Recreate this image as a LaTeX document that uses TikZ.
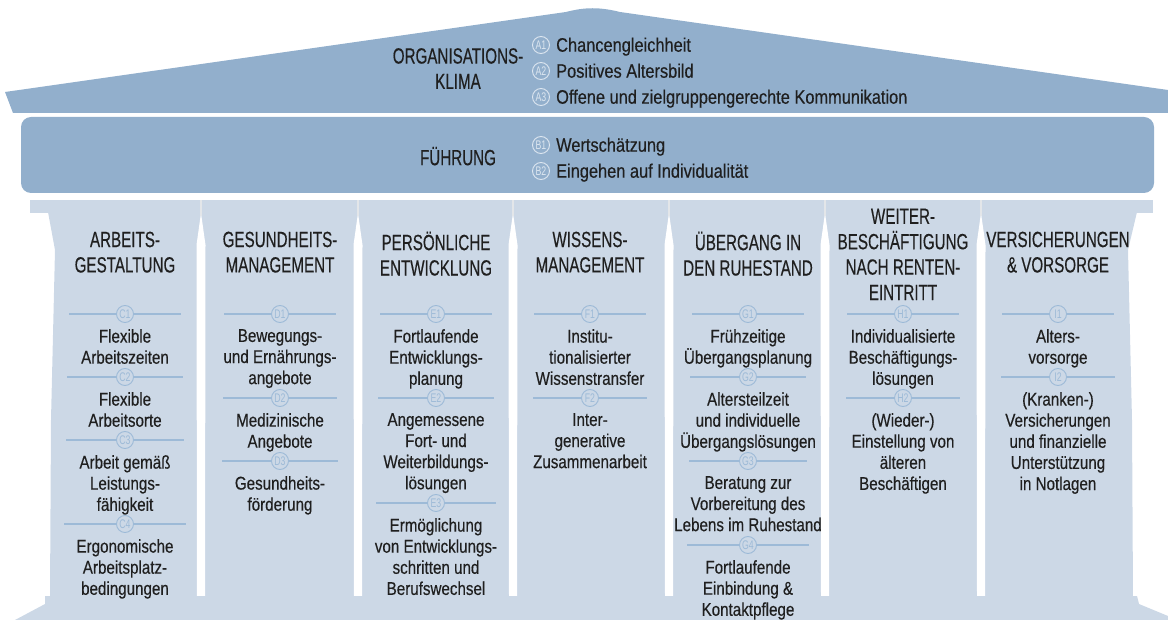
\documentclass[tikz,border=0pt]{standalone}
\usepackage{fontspec}
\setmainfont[FakeStretch=0.82, FakeBold=0.35]{Liberation Sans}
\newfontfamily\capsfont[FakeStretch=0.69, FakeBold=0.35]{Liberation Sans}
\newfontfamily\pointfont[FakeStretch=0.84, FakeBold=0.35]{Liberation Sans}
\newfontfamily\tagfont[FakeStretch=0.7]{Liberation Sans}

\definecolor{roofblue}{HTML}{92AFCC}
\definecolor{pillarblue}{HTML}{CCD8E6}
\definecolor{ruleblue}{HTML}{9DBAD7}
\definecolor{tagwhite}{HTML}{DCE6F0}
\definecolor{inkgray}{HTML}{1F1F1F}
\definecolor{jointgray}{HTML}{E3E6E9}

\begin{document}
\begin{tikzpicture}[x=1pt, y=-1pt,
  head/.style={font=\capsfont\fontsize{22}{25.4}\selectfont, text=inkgray, align=center,
    anchor=north, inner sep=0pt, execute at begin node={\rule{0pt}{20pt}}},
  item/.style={font=\fontsize{18.5}{21.1}\selectfont, text=inkgray, align=center,
    anchor=north, inner sep=0pt, execute at begin node={\rule{0pt}{17.3pt}}},
  point/.style={font=\pointfont\fontsize{19.5}{22}\selectfont, text=inkgray, anchor=base west, inner sep=0pt},
  rooftag/.style={circle, draw=tagwhite, line width=0.9pt, text=tagwhite, inner sep=0pt,
    minimum size=17pt, font=\tagfont\fontsize{12.5}{12.5}\selectfont},
  tag/.style={circle, draw=ruleblue, fill=pillarblue, line width=0.9pt, text=ruleblue, inner sep=0pt,
    minimum size=17pt, font=\tagfont\fontsize{12.5}{12.5}\selectfont},
  sep/.style={draw=ruleblue, line width=1.3pt}]
  \useasboundingbox (0,0) rectangle (1168,620);

  \fill[roofblue] (5,92) -- (566,12) .. controls (585,7) and (600,7) .. (620,12)
    -- (1168,90) -- (1168,113) -- (13,113) -- cycle;
  \fill[roofblue, rounded corners=10pt] (21,117) rectangle (1154,193);

  \fill[pillarblue] (30,200) rectangle (1153,213);
  \fill[pillarblue] (48,212) -- (1137,212) -- (1128,250) -- (1132,420) -- (1133,598)
    -- (50,598) -- (51,420) -- (55,250) -- cycle;
  \foreach \b in {201,358,513,669,825,981} {
    \fill[white] (\b,213) -- (\b+4.5,245) -- (\b+4,598) -- (\b-4,598) -- (\b-4.5,245) -- cycle;
    \draw[jointgray, line width=2.5pt] (\b,200) -- (\b,216);
  }
  \fill[pillarblue] (45,596) -- (1137,596) -- (1139,604) -- (1168,616) -- (1168,620)
    -- (15,620) -- (45,604) -- cycle;

  \node[head] (klima) at (458,48) {ORGANISATIONS-\\KLIMA};
  \node[rooftag] (a1) at (541,45) {A1};
  \node[rooftag] (a2) at (541,71) {A2};
  \node[rooftag] (a3) at (541,97) {A3};
  \node[point] (a1t) at (556,51.7) {Chancengleichheit};
  \node[point] (a2t) at (556,77.7) {Positives Altersbild};
  \node[point] (a3t) at (556,103.7) {Offene und zielgruppengerechte Kommunikation};

  \node[head] (fuehrung) at (458,145) {FÜHRUNG};
  \node[rooftag] (b1) at (541,145) {B1};
  \node[rooftag] (b2) at (541,171) {B2};
  \node[point] (b1t) at (556,151.7) {Wertschätzung};
  \node[point] (b2t) at (556,177.7) {Eingehen auf Individualität};

  \node[head] (arbeit) at (125,231.5) {ARBEITS-\\GESTALTUNG};
  \node[tag] (c1) at (125,314) {C1};
  \node[item] (c1t) at (125,329) {Flexible\\Arbeitszeiten};
  \node[tag] (c2) at (125,377) {C2};
  \node[item] (c2t) at (125,392) {Flexible\\Arbeitsorte};
  \node[tag] (c3) at (125,440) {C3};
  \node[item] (c3t) at (125,455) {Arbeit gemäß\\Leistungs-\\fähigkeit};
  \node[tag] (c4) at (125,524) {C4};
  \node[item] (c4t) at (125,539) {Ergonomische\\Arbeitsplatz-\\bedingungen};

  \node[head] (gesund) at (280,231.5) {GESUNDHEITS-\\MANAGEMENT};
  \node[tag] (d1) at (280,314) {D1};
  \node[item] (d1t) at (280,329) {Bewegungs-\\und Ernährungs-\\angebote};
  \node[tag] (d2) at (280,398) {D2};
  \node[item] (d2t) at (280,413) {Medizinische\\Angebote};
  \node[tag] (d3) at (280,461) {D3};
  \node[item] (d3t) at (280,476) {Gesundheits-\\förderung};

  \node[head] (person) at (436,231.5) {PERSÖNLICHE\\ENTWICKLUNG};
  \node[tag] (e1) at (436,314) {E1};
  \node[item] (e1t) at (436,329) {Fortlaufende\\Entwicklungs-\\planung};
  \node[tag] (e2) at (436,398) {E2};
  \node[item] (e2t) at (436,413) {Angemessene\\Fort- und\\Weiterbildungs-\\lösungen};
  \node[tag] (e3) at (436,503) {E3};
  \node[item] (e3t) at (436,518) {Ermöglichung\\von Entwicklungs-\\schritten und\\Berufswechsel};

  \node[head] (wissen) at (590,231.5) {WISSENS-\\MANAGEMENT};
  \node[tag] (f1) at (590,314) {F1};
  \node[item] (f1t) at (590,329) {Institu-\\tionalisierter\\Wissenstransfer};
  \node[tag] (f2) at (590,398) {F2};
  \node[item] (f2t) at (590,413) {Inter-\\generative\\Zusammenarbeit};

  \node[head] (uebergang) at (748,231.5) {ÜBERGANG IN\\DEN RUHESTAND};
  \node[tag] (g1) at (748,314) {G1};
  \node[item] (g1t) at (748,329) {Frühzeitige\\Übergangsplanung};
  \node[tag] (g2) at (748,377) {G2};
  \node[item] (g2t) at (748,392) {Altersteilzeit\\und individuelle\\Übergangslösungen};
  \node[tag] (g3) at (748,461) {G3};
  \node[item] (g3t) at (748,476) {Beratung zur\\Vorbereitung des\\Lebens im Ruhestand};
  \node[tag] (g4) at (748,545) {G4};
  \node[item] (g4t) at (748,560) {Fortlaufende\\Einbindung \&\\Kontaktpflege};

  \node[head] (weiter) at (903,208.5) {WEITER-\\BESCHÄFTIGUNG\\NACH RENTEN-\\EINTRITT};
  \node[tag] (h1) at (903,314) {H1};
  \node[item] (h1t) at (903,329) {Individualisierte\\Beschäftigungs-\\lösungen};
  \node[tag] (h2) at (903,398) {H2};
  \node[item] (h2t) at (903,413) {(Wieder-)\\Einstellung von\\älteren\\Beschäftigen};

  \node[head] (vorsorge) at (1058,231.5) {VERSICHERUNGEN\\\& VORSORGE};
  \node[tag] (i1) at (1058,314) {I1};
  \node[item] (i1t) at (1058,329) {Alters-\\vorsorge};
  \node[tag] (i2) at (1058,377) {I2};
  \node[item] (i2t) at (1058,392) {(Kranken-)\\Versicherungen\\und finanzielle\\Unterstützung\\in Notlagen};

  \draw[sep] ([xshift=-56pt]c1.center) -- (c1) -- ([xshift=56pt]c1.center);
  \draw[sep] ([xshift=-58pt]c2.center) -- (c2) -- ([xshift=58pt]c2.center);
  \draw[sep] ([xshift=-59pt]c3.center) -- (c3) -- ([xshift=59pt]c3.center);
  \draw[sep] ([xshift=-61pt]c4.center) -- (c4) -- ([xshift=61pt]c4.center);
  \draw[sep] ([xshift=-56pt]d1.center) -- (d1) -- ([xshift=56pt]d1.center);
  \draw[sep] ([xshift=-57pt]d2.center) -- (d2) -- ([xshift=57pt]d2.center);
  \draw[sep] ([xshift=-58pt]d3.center) -- (d3) -- ([xshift=58pt]d3.center);
  \draw[sep] ([xshift=-56pt]e1.center) -- (e1) -- ([xshift=56pt]e1.center);
  \draw[sep] ([xshift=-58pt]e2.center) -- (e2) -- ([xshift=58pt]e2.center);
  \draw[sep] ([xshift=-60pt]e3.center) -- (e3) -- ([xshift=60pt]e3.center);
  \draw[sep] ([xshift=-56pt]f1.center) -- (f1) -- ([xshift=56pt]f1.center);
  \draw[sep] ([xshift=-57pt]f2.center) -- (f2) -- ([xshift=57pt]f2.center);
  \draw[sep] ([xshift=-56pt]g1.center) -- (g1) -- ([xshift=56pt]g1.center);
  \draw[sep] ([xshift=-58pt]g2.center) -- (g2) -- ([xshift=58pt]g2.center);
  \draw[sep] ([xshift=-59pt]g3.center) -- (g3) -- ([xshift=59pt]g3.center);
  \draw[sep] ([xshift=-61pt]g4.center) -- (g4) -- ([xshift=61pt]g4.center);
  \draw[sep] ([xshift=-56pt]h1.center) -- (h1) -- ([xshift=56pt]h1.center);
  \draw[sep] ([xshift=-57pt]h2.center) -- (h2) -- ([xshift=57pt]h2.center);
  \draw[sep] ([xshift=-56pt]i1.center) -- (i1) -- ([xshift=56pt]i1.center);
  \draw[sep] ([xshift=-57pt]i2.center) -- (i2) -- ([xshift=57pt]i2.center);
\end{tikzpicture}
\end{document}
